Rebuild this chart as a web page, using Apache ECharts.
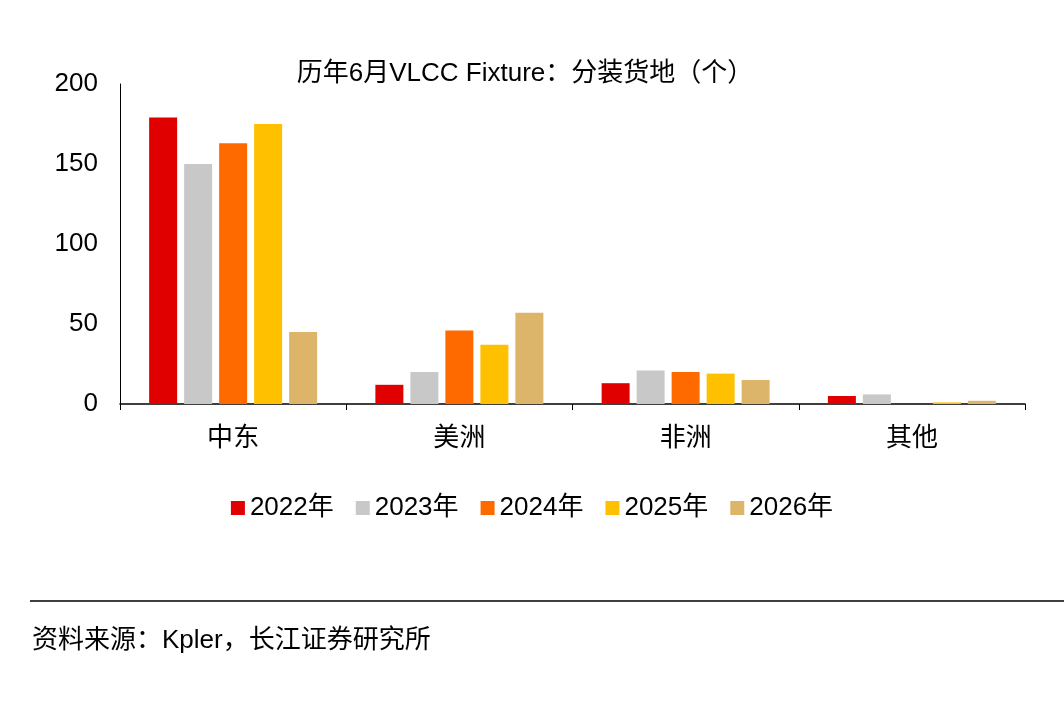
<!DOCTYPE html><html><head><meta charset="utf-8"><script src="https://cdn.jsdelivr.net/npm/echarts@6/dist/echarts.min.js"></script>
<style>body{margin:0;background:#fff}#c{width:1064px;height:703px}</style></head><body><div id="c"></div>
<script>
const categories=['中东','美洲','非洲','其他'];
const seriesNames=['2022年','2023年','2024年','2025年','2026年'];
const colors=['#E00000','#C8C8C8','#FF6A00','#FFC000','#DDB56A'];
const v2022=[179,12,13,5];
const v2023=[150,20,21,6];
const v2024=[163,46,20,0];
const v2025=[175,37,19,1];
const v2026=[45,57,15,2];
const vals=[v2022,v2023,v2024,v2025,v2026];
const F='Arial, "Liberation Sans", "Noto Sans CJK SC", sans-serif';
const c=echarts.init(document.getElementById('c'));
c.setOption({
 title:{text:'历年6月VLCC Fixture：分装货地（个）',left:520,top:56,textAlign:'center',textStyle:{fontSize:26,fontWeight:'normal',color:'#000',fontFamily:F}},
 legend:{top:490,left:'center',itemWidth:14,itemHeight:14,itemGap:22,icon:'rect',textStyle:{fontSize:26,color:'#000',fontFamily:F}},
 grid:{left:120,right:39,top:84,bottom:299},
 xAxis:{type:'category',data:categories,axisLine:{lineStyle:{color:'#000',width:1.5}},axisTick:{show:true,length:6,lineStyle:{color:'#000'}},axisLabel:{fontSize:26,color:'#000',margin:22,fontFamily:F}},
 yAxis:{type:'value',min:0,max:200,interval:50,splitLine:{show:false},axisLine:{show:true,lineStyle:{color:'#000',width:1}},axisTick:{show:false},axisLabel:{fontSize:26,color:'#000',margin:22,fontFamily:F}},
 graphic:[{type:'line',shape:{x1:30,y1:601,x2:1064,y2:601},style:{stroke:'#000',lineWidth:1.5}},
  {type:'text',left:32,top:628,style:{text:'资料来源：Kpler，长江证券研究所',fontSize:26,fill:'#000',fontFamily:F}}],
 series:seriesNames.map((n,i)=>({name:n,type:'bar',data:vals[i],barWidth:28,barGap:'25%',itemStyle:{color:colors[i]}}))
});
</script></body></html>
